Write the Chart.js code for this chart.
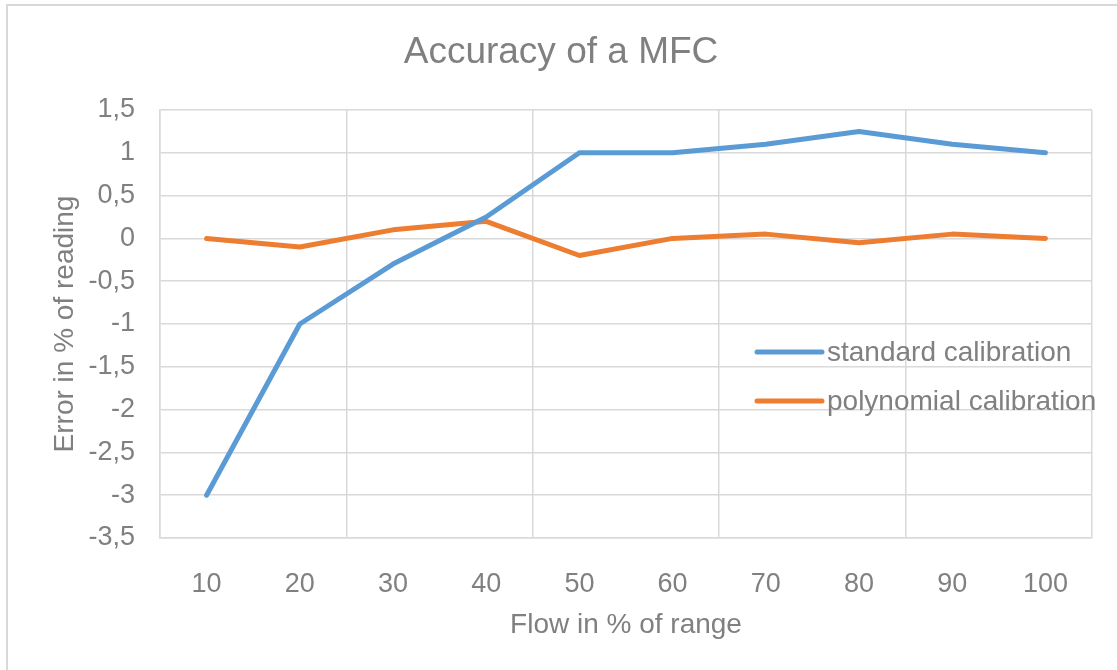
<!DOCTYPE html>
<html lang="en">
<head>
  <meta charset="UTF-8" />
  <title>Accuracy of a MFC</title>
  <script src="https://cdn.jsdelivr.net/npm/chart.js@4.4.0"></script>
  <style>
    html, body {
      margin: 0;
      padding: 0;
      background: #fff;
      overflow: hidden;
    }
    .frame {
      position: absolute;
      left: 6px;
      top: 4px;
      width: 1300px;
      height: 900px;
      border: 2px solid #d9d9d9;
    }
    .chart-container {
      position: absolute;
      left: 0;
      top: 0;
      width: 1117px;
      height: 670px;
    }
  </style>
</head>
<body>
  <div class="frame"></div>
  <div class="chart-container">
    <canvas id="mfcChart"></canvas>
  </div>

  <script>
    const flowRange = [10, 20, 30, 40, 50, 60, 70, 80, 90, 100];
    const standardCal = [-3, -1, -0.3, 0.25, 1, 1, 1.1, 1.25, 1.1, 1];
    const polynomialCal = [0, -0.1, 0.1, 0.2, -0.2, 0, 0.05, -0.05, 0.05, 0];

    const chartTitle = 'Accuracy of a MFC';
    const textGray = '#808080';
    const gridGray = '#d9d9d9';
    const fontFamily = "'Liberation Sans', Arial, sans-serif";

    // title is centred on the whole frame, not on the plot, so draw it ourselves
    const frameTitle = {
      id: 'frameTitle',
      afterDraw(chart) {
        const ctx = chart.ctx;
        ctx.save();
        ctx.font = '37px ' + fontFamily;
        ctx.fillStyle = textGray;
        ctx.textAlign = 'center';
        ctx.textBaseline = 'alphabetic';
        ctx.fillText(chartTitle, 561, 63);
        ctx.restore();
      }
    };

    // legend drawn inside the plot, Excel style
    const insideLegend = {
      id: 'insideLegend',
      afterDraw(chart) {
        const ctx = chart.ctx;
        const x0 = 757, x1 = 822, textX = 827;
        const rows = [352, 401];
        ctx.save();
        ctx.font = '28px ' + fontFamily;
        ctx.textBaseline = 'middle';
        ctx.textAlign = 'left';
        chart.data.datasets.forEach((ds, i) => {
          const y = rows[i];
          ctx.strokeStyle = ds.borderColor;
          ctx.lineWidth = 5;
          ctx.lineCap = 'round';
          ctx.beginPath();
          ctx.moveTo(x0, y);
          ctx.lineTo(x1, y);
          ctx.stroke();
          ctx.fillStyle = textGray;
          ctx.fillText(ds.label, textX, y + 1);
        });
        ctx.restore();
      }
    };

    document.addEventListener('DOMContentLoaded', function () {
      const context = document.getElementById('mfcChart').getContext('2d');

      new Chart(context, {
        type: 'line',
        data: {
          labels: flowRange,
          datasets: [{
            label: 'standard calibration',
            data: standardCal,
            borderColor: '#5b9bd5',
            borderWidth: 5,
            borderCapStyle: 'round',
            borderJoinStyle: 'round',
            pointRadius: 0,
            tension: 0
          }, {
            label: 'polynomial calibration',
            data: polynomialCal,
            borderColor: '#ed7d31',
            borderWidth: 5,
            borderCapStyle: 'round',
            borderJoinStyle: 'round',
            pointRadius: 0,
            tension: 0
          }]
        },
        options: {
          responsive: true,
          maintainAspectRatio: false,
          animation: false,
          layout: { padding: { left: 0, right: 25, top: 110, bottom: 0 } },
          scales: {
            x: {
              type: 'category',
              offset: true,
              grid: {
                offset: true,
                drawTicks: false,
                lineWidth: 1.5,
                color: c => (c.index === undefined || c.index % 2 === 0) ? gridGray : 'rgba(0,0,0,0)'
              },
              border: { color: gridGray, width: 1.5 },
              ticks: {
                color: textGray,
                font: { family: fontFamily, size: 27 },
                padding: 30,
                maxRotation: 0,
                autoSkip: false
              },
              title: {
                display: true,
                text: 'Flow in % of range',
                color: textGray,
                font: { family: fontFamily, size: 28 },
                padding: { top: 0, bottom: 28 }
              },
              afterFit(scale) { scale.height = 132; }
            },
            y: {
              min: -3.5,
              max: 1.5,
              ticks: {
                stepSize: 0.5,
                color: textGray,
                font: { family: fontFamily, size: 27 },
                padding: 25,
                callback: v => String(Math.round(v * 10) / 10).replace('.', ',')
              },
              grid: { color: gridGray, lineWidth: 1.5, drawTicks: false },
              border: { color: gridGray, width: 1.5 },
              title: {
                display: true,
                text: 'Error in % of reading',
                color: textGray,
                font: { family: fontFamily, size: 28 },
                padding: { top: 48, bottom: 0 }
              },
              afterFit(scale) { scale.width = 160; }
            }
          },
          plugins: {
            legend: { display: false },
            tooltip: { enabled: false },
            title: { display: false }
          }
        },
        plugins: [frameTitle, insideLegend]
      });
    });
  </script>
</body>
</html>
